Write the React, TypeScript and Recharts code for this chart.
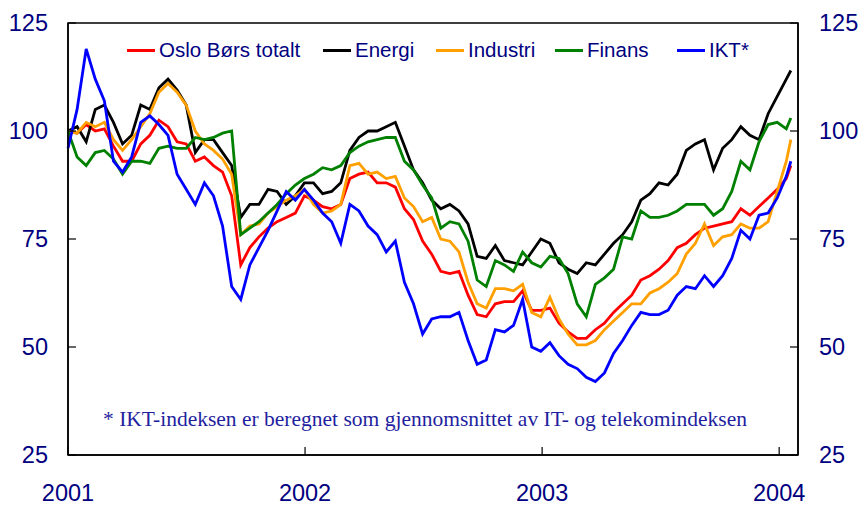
import { LineChart, Line, XAxis, YAxis, ReferenceArea } from 'recharts';

// days since 1 Jan 2001, one reading every second week, last one end of Jan 2004
const days = [...Array.from({ length: 80 }, (_, i) => i * 14), 1113];

const osloTotal = [
  100, 99.5, 101.5, 100, 100.5, 96.5, 93, 93, 97, 99, 102.5, 101, 97.5, 97,
  93, 94, 92, 90.5, 85, 69, 73, 75.5, 77.5, 79, 80, 81, 85,
  84, 82.5, 82, 83, 89, 90, 90.5, 88, 88, 87, 82, 79.5, 74.5, 71.5,
  67.5, 67, 67.5, 62, 57.5, 57, 60, 60.5, 60.5, 63, 58.5, 58.5, 59,
  55.5, 53.5, 52, 52, 54, 55.5, 58, 60, 62, 65.5, 66.5, 68, 70, 73,
  74, 76, 77.5, 78, 78.5, 79, 82, 80.5, 82.5, 84.5, 86.5, 89, 92,
];
const energi = [
  100, 101, 97.5, 105, 106, 102, 97, 99, 106, 105, 110, 112, 109.5, 106,
  95, 98, 98, 95, 92, 80, 83, 83, 86.5, 86, 83, 85, 88,
  88, 85.5, 86, 88, 95.5, 98.5, 100, 100, 101, 102, 96.5, 91, 88, 84,
  82, 83, 81.5, 78.5, 71, 70.5, 73.5, 70, 69.5, 69, 72, 75, 74,
  69.5, 68, 67, 69.5, 69, 71.5, 74, 76, 79, 84, 85.5, 88, 87.5, 90,
  95.5, 97, 98, 91, 96, 98, 101, 99, 98, 104, 108, 112, 114,
];
const industri = [
  100, 99.5, 102, 101, 102, 98, 95.5, 98, 101, 104, 109, 111, 109, 106,
  100, 97, 95.5, 93.5, 90, 76, 78, 78.5, 81, 82.5, 84, 85, 86.5,
  83, 81, 81.5, 83, 92, 92.5, 90, 90.5, 89, 89.5, 84.5, 82.5, 79, 80,
  75, 74.5, 72, 65, 60, 59, 63.5, 63.5, 63, 64.5, 58, 57, 61.5,
  56.5, 53, 50.5, 50.5, 51.5, 54, 56, 58, 60, 60, 62.5, 63.5, 65, 67,
  71.5, 74, 78.5, 73.5, 75.5, 76, 78.5, 77.5, 77.5, 79, 86, 93, 98,
];
const finans = [
  100, 94, 92, 95, 95.5, 93.5, 90, 93, 93, 92.5, 96, 96.5, 96, 96,
  98.5, 98, 98.5, 99.5, 100, 76, 77.5, 79, 81, 83, 85.5, 87.5, 89,
  90, 91.5, 91, 92, 95, 96.5, 97.5, 98, 98.5, 98.5, 93, 91, 87.5, 84.5,
  77.5, 79, 78.5, 74.5, 65.5, 64, 70, 69, 67.5, 72, 69.5, 68.5, 71,
  70.5, 67, 60, 57, 64.5, 66, 68, 75.5, 75, 81.5, 80, 80, 80.5, 81.5,
  83, 83, 83, 80.5, 82, 86, 93, 91, 97.5, 101.5, 102, 100.5, 103,
];
const ikt = [
  96, 105, 119, 112, 107, 93, 90.5, 94, 102, 103.5, 101.5, 99, 90, 86.5,
  83, 88, 85, 78, 64, 61, 69, 73, 77, 81.5, 86, 84, 86.5,
  84, 81, 79, 74, 83, 81.5, 78, 76, 72, 74.5, 65, 60, 53, 56.5,
  57, 57, 58, 51.5, 46, 47, 54, 53.5, 55, 61, 50, 49, 51,
  48, 46, 45, 43, 42, 44, 48.5, 51.5, 55, 58, 57.5, 57.5, 58.5, 62,
  64, 63.5, 66.5, 64, 66.5, 70.5, 77, 75, 80.5, 81, 84.5, 89.5, 93,
];

const yearTicks = [0, 365, 730, 1095];
const yearLabels = ['2001', '2002', '2003', '2004'];
const valueTicks = [25, 50, 75, 100, 125];

const series = [
  { key: 'osloTotal', name: 'Oslo Børs totalt', color: '#ff0000' },
  { key: 'energi', name: 'Energi', color: '#000000' },
  { key: 'industri', name: 'Industri', color: '#ffa000' },
  { key: 'finans', name: 'Finans', color: '#008000' },
  { key: 'ikt', name: 'IKT*', color: '#0000ff' },
];

const data = days.map((day, i) => ({
  day,
  osloTotal: osloTotal[i],
  energi: energi[i],
  industri: industri[i],
  finans: finans[i],
  ikt: ikt[i],
}));

const font = '"Liberation Sans", Arial, sans-serif';
const navy = '#000080';

const LeftTick = (props: any) => {
  const { x, y, payload } = props;
  return (
    <g>
      <line x1={x} x2={x + 8} y1={y} y2={y} stroke="#000" strokeWidth={1.2} />
      <text x={x - 20} y={y} dy={8} textAnchor="end" fill={navy} fontSize={23.5} fontFamily={font}>
        {payload.value}
      </text>
    </g>
  );
};

const RightTick = (props: any) => {
  const { x, y, payload } = props;
  return (
    <g>
      <line x1={x - 8} x2={x} y1={y} y2={y} stroke="#000" strokeWidth={1.2} />
      <text x={x + 21} y={y} dy={8} textAnchor="start" fill={navy} fontSize={23.5} fontFamily={font}>
        {payload.value}
      </text>
    </g>
  );
};

const YearTick = (props: any) => {
  const { x, y, payload } = props;
  const label = yearLabels[yearTicks.indexOf(payload.value)];
  return (
    <g>
      <line x1={x} x2={x} y1={y} y2={y - 8} stroke="#000" strokeWidth={1.2} />
      <text x={x} y={y + 46} textAnchor="middle" fill={navy} fontSize={23.5} fontFamily={font}>
        {label}
      </text>
    </g>
  );
};

const legendLeft = [127, 323, 436, 555, 677];

export default function App() {
  return (
    <div style={{ position: 'absolute', left: 0, top: 0, width: 862, height: 505, background: '#fff' }}>
      <LineChart width={862} height={505} data={data} margin={{ top: 23, right: 0, left: 0, bottom: 0 }}>
        <XAxis
          dataKey="day"
          type="number"
          domain={[0, 1124]}
          ticks={yearTicks}
          interval={0}
          height={50}
          tickSize={0}
          tickMargin={0}
          tickLine={false}
          axisLine={{ stroke: '#000', strokeWidth: 1.5 }}
          tick={<YearTick />}
        />
        <YAxis
          yAxisId="left"
          domain={[25, 125]}
          ticks={valueTicks}
          interval={0}
          width={68}
          tickSize={0}
          tickMargin={0}
          tickLine={false}
          axisLine={{ stroke: '#000', strokeWidth: 1.5 }}
          tick={<LeftTick />}
        />
        <YAxis
          yAxisId="right"
          orientation="right"
          domain={[25, 125]}
          ticks={valueTicks}
          interval={0}
          width={64}
          tickSize={0}
          tickMargin={0}
          tickLine={false}
          axisLine={{ stroke: '#000', strokeWidth: 1.5 }}
          tick={<RightTick />}
        />
        <ReferenceArea
          yAxisId="left"
          x1={0}
          x2={1124}
          y1={25}
          y2={125}
          fill="#fff"
          fillOpacity={0}
          stroke="#000"
          strokeWidth={1.5}
        />
        {/* same index on the right-hand axis, kept invisible so that axis gets drawn */}
        <Line
          yAxisId="right"
          dataKey="energi"
          stroke="#000"
          strokeOpacity={0}
          dot={false}
          activeDot={false}
          legendType="none"
          isAnimationActive={false}
        />
        {series.map((s) => (
          <Line
            key={s.key}
            yAxisId="left"
            type="linear"
            dataKey={s.key}
            name={s.name}
            stroke={s.color}
            strokeWidth={2.8}
            dot={false}
            isAnimationActive={false}
          />
        ))}
      </LineChart>

      {series.map((s, i) => (
        <div
          key={s.key}
          style={{
            position: 'absolute',
            left: legendLeft[i],
            top: 38,
            display: 'flex',
            alignItems: 'center',
            fontFamily: font,
            fontSize: 20.5,
            color: navy,
            whiteSpace: 'nowrap',
          }}
        >
          <span style={{ display: 'inline-block', width: 28, height: 3, background: s.color, marginRight: 4 }} />
          {s.name}
        </div>
      ))}

      <div
        style={{
          position: 'absolute',
          left: -6,
          width: 862,
          top: 407,
          textAlign: 'center',
          fontFamily: '"Liberation Serif", "Times New Roman", serif',
          fontSize: 21.5,
          color: '#1f1fa0',
        }}
      >
        * IKT-indeksen er beregnet som gjennomsnittet av IT- og telekomindeksen
      </div>
    </div>
  );
}
